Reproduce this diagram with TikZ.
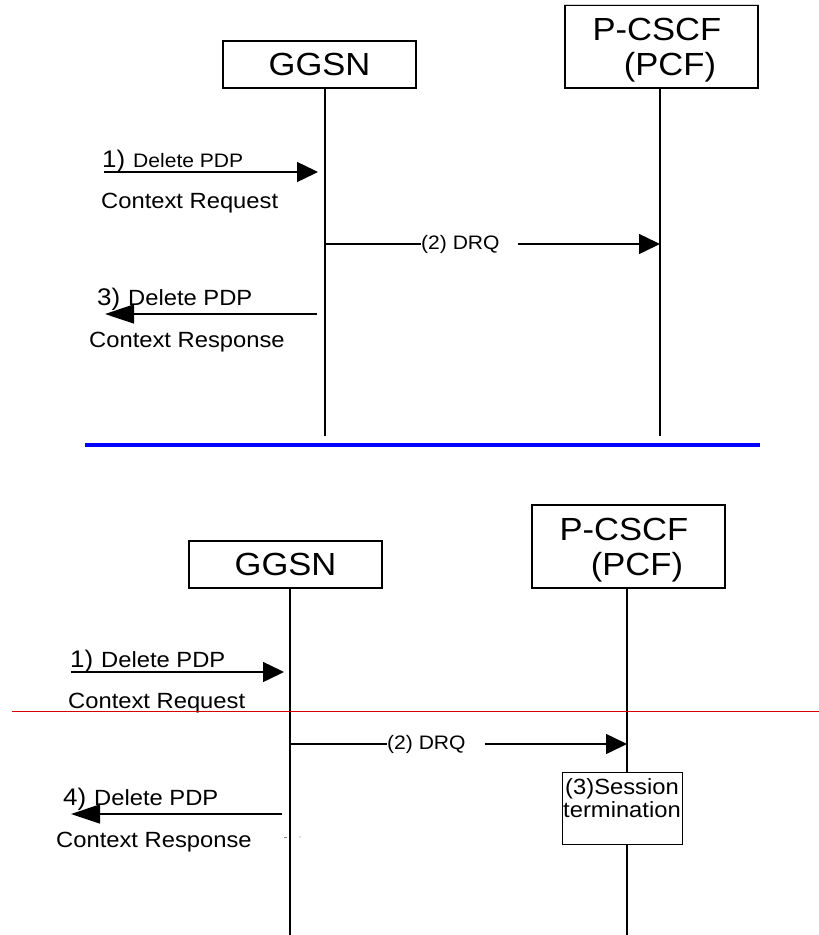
\documentclass[tikz,border=0pt]{standalone}
\usepackage{fontspec}
\setmainfont{Liberation Sans}[FakeStretch=1.08]
\usepackage{tikz}
\usetikzlibrary{arrows.meta}
\newcommand*{\boxFont}{\fontsize{32}{35}\selectfont}
\newcommand*{\msgFont}{\fontsize{22}{23}\selectfont}
\newcommand*{\smallFont}{\fontsize{19.5}{21}\selectfont} % DRQ labels and the first upper request
\newcommand*{\numFont}{\fontsize{24}{24}\selectfont}
\newcommand*{\msgNum}[1]{{\numFont #1)}\hspace{8pt}} % big step number in front of a message text
\newcommand*{\pcfText}{\raisebox{-4pt}[\height][\depth]{\begin{tabular}{@{}c@{}}P-CSCF\hspace*{9pt}\\\hspace*{17pt}(PCF)\end{tabular}}}
\newcommand*{\sepBlue}{blue}
\newcommand*{\sepRed}{red!85!black}
\newcommand*{\lifeline}[2]{\draw[lifeline] (#1.south -| #2) -- (#2);} % entity box, lower end of its line
\tikzset{
    entity/.style={draw, line width=1.5pt, inner sep=0pt, minimum width=193pt, font=\boxFont, align=center},
    lifeline/.style={line width=1.6pt},
    plainmsg/.style={line width=1.5pt},
    msg/.style={line width=1.5pt, -{Triangle[length=21pt, width=20pt]}},
    reply/.style={line width=1.5pt, -{Triangle[length=29pt, width=19pt]}},
    msgtext/.style={anchor=base west, inner sep=0pt, font=\msgFont},
    drqtext/.style={anchor=west, inner sep=0pt, font=\smallFont},
    sessbox/.style={draw, line width=0.8pt, fill=white, minimum width=120pt, minimum height=72pt, inner sep=0pt, align=center, font=\msgFont}
}

\begin{document}
\begin{tikzpicture}[x=1pt, y=-1pt] {
\useasboundingbox (0,0) rectangle (819,935);
% upper chart
\node[entity, minimum height=47pt] (ggsnA) at (319.5,64.5) {GGSN};
\node[entity, minimum height=83pt] (pcscfA) at (661.5,46.5) {\pcfText};
\draw[gray!35, line width=1.5pt] (pcscfA.north west) -- (pcscfA.north east);
\coordinate (gA) at (325,436);
\coordinate (pA) at (660,436);
\lifeline{ggsnA}{gA}
\lifeline{pcscfA}{pA}
\coordinate (reqA) at (104,172);
\draw[msg, shorten >=7pt] (reqA) -- (reqA -| gA);
\node[msgtext] (reqAtop) at (102,167) {\msgNum{1}{\smallFont Delete PDP}};
\node[msgtext] (reqAbot) at (101,208) {Context Request};
\node[drqtext] (drqA) at (421,244) {(2) DRQ};
\draw[plainmsg] (drqA.west -| gA) -- (drqA.west);
\draw[msg] ([xshift=18pt]drqA.east) -- (drqA.east -| pA);
\coordinate (rspA) at (105,314);
\draw[reply, shorten <=8pt] (rspA -| gA) -- (rspA);
\node[msgtext] (rspAtop) at (97,305) {\msgNum{3}Delete PDP};
\node[msgtext] (rspAbot) at (89,347) {Context Response};
\draw[line width=4pt, \sepBlue] (85,445) -- (760,445);
% lower chart
\node[entity, minimum height=47pt] (ggsnB) at (285.5,564.5) {GGSN};
\node[entity, minimum height=83pt] (pcscfB) at (628.5,546.5) {\pcfText};
\coordinate (gB) at (290,935);
\coordinate (pB) at (627,935);
\lifeline{ggsnB}{gB}
\lifeline{pcscfB}{pB}
\coordinate (reqB) at (71,672);
\draw[msg, shorten >=6pt] (reqB) -- (reqB -| gB);
\node[msgtext] (reqBtop) at (70,667) {\msgNum{1}Delete PDP};
\node[msgtext] (reqBbot) at (68,708) {Context Request};
\draw[line width=1pt, \sepRed] (12,711) -- (819,711);
\node[drqtext] (drqB) at (387,744) {(2) DRQ};
\draw[plainmsg] (drqB.west -| gB) -- (drqB.west);
\draw[msg] ([xshift=19pt]drqB.east) -- (drqB.east -| pB);
\node[sessbox] (sessB) at (622,808) {\raisebox{7pt}[\height][\depth]{\begin{tabular}{@{}c@{}}(3)Session\\termination\end{tabular}}};
\coordinate (rspB) at (71,814);
\draw[reply, shorten <=8pt] (rspB -| gB) -- (rspB);
\node[msgtext] (rspBtop) at (63,805) {\msgNum{4}Delete PDP};
\node[msgtext] (rspBbot) at (56,847) {Context Response};
\draw[gray, line width=0.6pt] (284,837) -- (287,837);
\fill[gray] (300,837) circle (0.6pt);
}\end{tikzpicture}
\end{document}
